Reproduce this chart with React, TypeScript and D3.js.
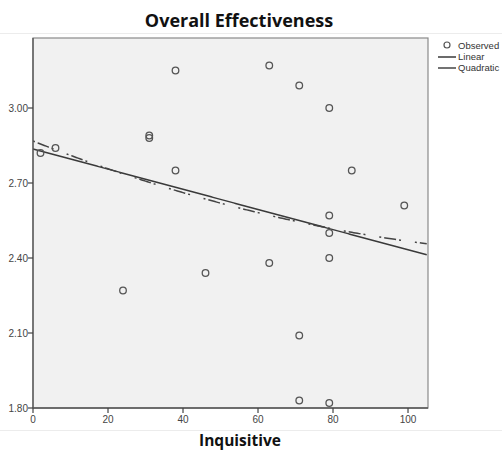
import React from "react";
import * as d3 from "d3";

const xValues = [2, 6, 24, 31, 31, 38, 38, 46, 63, 63, 71, 71, 71, 79, 79, 79, 79, 79, 85, 99];
const yValues = [2.82, 2.84, 2.27, 2.89, 2.88, 3.15, 2.75, 2.34, 3.17, 2.38, 3.09, 2.09, 1.83, 3.0, 2.57, 2.5, 2.4, 1.82, 2.75, 2.61];
const xTicks = [0, 20, 40, 60, 80, 100];
const yTicks = [1.8, 2.1, 2.4, 2.7, 3.0];
const legendLabels = ["Observed", "Linear", "Quadratic"];
const title = "Overall Effectiveness";
const xLabel = "Inquisitive";

function solve3(A: number[][], b: number[]): number[] {
  const M = A.map((r, i) => [...r, b[i]]);
  const n = 3;
  for (let i = 0; i < n; i++) {
    let p = i;
    for (let k = i + 1; k < n; k++) if (Math.abs(M[k][i]) > Math.abs(M[p][i])) p = k;
    [M[i], M[p]] = [M[p], M[i]];
    for (let k = i + 1; k < n; k++) {
      const f = M[k][i] / M[i][i];
      for (let j = i; j <= n; j++) M[k][j] -= f * M[i][j];
    }
  }
  const x = [0, 0, 0];
  for (let i = n - 1; i >= 0; i--) {
    let s = M[i][n];
    for (let j = i + 1; j < n; j++) s -= M[i][j] * x[j];
    x[i] = s / M[i][i];
  }
  return x;
}

function fits() {
  const n = xValues.length;
  const mx = d3.mean(xValues)!;
  const my = d3.mean(yValues)!;
  let sxy = 0, sxx = 0;
  for (let i = 0; i < n; i++) {
    sxy += (xValues[i] - mx) * (yValues[i] - my);
    sxx += (xValues[i] - mx) ** 2;
  }
  const b1 = sxy / sxx;
  const b0 = my - b1 * mx;
  const S = (p: number) => d3.sum(xValues, (x) => x ** p);
  const T = (p: number) => d3.sum(xValues.map((x, i) => x ** p * yValues[i]));
  const A = [
    [n, S(1), S(2)],
    [S(1), S(2), S(3)],
    [S(2), S(3), S(4)],
  ];
  const q = solve3(A, [T(0), T(1), T(2)]);
  return { lin: (x: number) => b0 + b1 * x, quad: (x: number) => q[0] + q[1] * x + q[2] * x * x };
}

export default function App() {
  const W = 502, H = 450;
  const L = 33, R = 428, T = 38, B = 408;
  const x = d3.scaleLinear().domain([0, 105.33]).range([L, R]);
  const y = d3.scaleLinear().domain([1.8, 3.28]).range([B, T]);
  const { lin, quad } = fits();
  const xs = d3.range(0, 105.34, 0.5);
  const line = d3
    .line<number>()
    .x((d) => x(d))
    .y((d) => y(lin(d)));
  const qline = d3
    .line<number>()
    .x((d) => x(d))
    .y((d) => y(quad(d)));
  const tickColor = "#444";
  const font = "'Liberation Sans', Arial, sans-serif";
  return (
    <svg width={W} height={H} style={{ position: "absolute", left: 0, top: 0, background: "#fff" }}>
      <line x1={0} x2={W} y1={33.5} y2={33.5} stroke="#ececec" />
      <line x1={0} x2={W} y1={430.5} y2={430.5} stroke="#ececec" />
      <text x={239} y={27} textAnchor="middle" fontFamily="'Open Sans', sans-serif" fontWeight="bold" fontSize={18} fill="#111">
        {title}
      </text>
      <rect x={L} y={T} width={R - L} height={B - T} fill="#f1f1f1" stroke="#8a8a8a" strokeWidth={1.2} />
      <clipPath id="plotclip">
        <rect x={L} y={T} width={R - L} height={B - T} />
      </clipPath>
      <g clipPath="url(#plotclip)">
        <path d={line(xs)!} fill="none" stroke="#3a3a3a" strokeWidth={1.5} />
        <path d={qline(xs)!} fill="none" stroke="#444" strokeWidth={1.5} strokeDasharray="2,3,12,3,2,14" />
        {xValues.map((xv, i) => (
          <circle key={i} cx={x(xv)} cy={y(yValues[i])} r={3.3} fill="none" stroke="#555" strokeWidth={1.3} />
        ))}
      </g>
      <line x1={L} x2={L} y1={T} y2={B} stroke="#555" strokeWidth={1.3} />
      <line x1={L} x2={R} y1={B} y2={B} stroke="#555" strokeWidth={1.3} />
      {yTicks.map((t) => (
        <g key={t}>
          <line x1={L - 5} x2={L} y1={y(t)} y2={y(t)} stroke={tickColor} strokeWidth={1.2} />
          <text x={L - 5} y={y(t) + 3.5} textAnchor="end" fontFamily={font} fontSize={10} fill={tickColor}>
            {d3.format(".2f")(t)}
          </text>
        </g>
      ))}
      {xTicks.map((t) => (
        <g key={t}>
          <line x1={x(t)} x2={x(t)} y1={B} y2={B + 5} stroke={tickColor} strokeWidth={1.2} />
          <text x={x(t)} y={B + 15} textAnchor="middle" fontFamily={font} fontSize={10} fill={tickColor}>
            {t}
          </text>
        </g>
      ))}
      <text x={240} y={445.5} textAnchor="middle" fontFamily="'Open Sans', sans-serif" fontWeight="bold" fontSize={15.5} fill="#111">
        {xLabel}
      </text>
      <g fontFamily={font} fontSize={9.5} fill="#333">
        <circle cx={447} cy={45} r={3} fill="none" stroke="#555" strokeWidth={1.2} />
        <text x={458} y={48.5}>{legendLabels[0]}</text>
        <line x1={438} x2={456} y1={57} y2={57} stroke="#3a3a3a" strokeWidth={1.5} />
        <text x={458} y={60}>{legendLabels[1]}</text>
        <line x1={438} x2={456} y1={68} y2={68} stroke="#444" strokeWidth={1.5} />
        <text x={458} y={71}>{legendLabels[2]}</text>
      </g>
    </svg>
  );
}
